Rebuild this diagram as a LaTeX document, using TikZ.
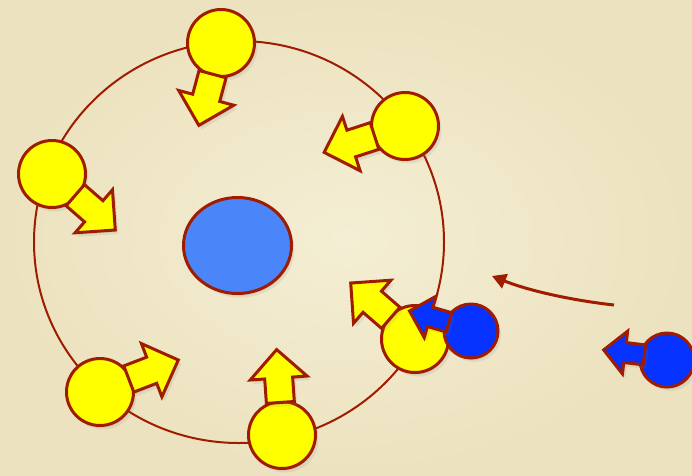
\documentclass[tikz,border=0pt]{standalone}
\usepackage{tikz}
\usetikzlibrary{arrows.meta, shapes.geometric, shapes.arrows, shadows}
\definecolor{Rim}{HTML}{A01C00}
\definecolor{Sun}{HTML}{FFFF00}
\definecolor{Ion}{HTML}{0532FF}
\definecolor{Core}{HTML}{4A86FA}
\definecolor{PaperLight}{HTML}{F4EED4}
\definecolor{PaperDark}{HTML}{ECE2BF}
\tikzset{
    soft/.style={drop shadow={shadow xshift=1pt, shadow yshift=-2pt, opacity=0.18},
                 drop shadow={shadow xshift=3pt, shadow yshift=-4pt, opacity=0.14}},
    ball/.style={circle, draw=Rim, line width=3pt, inner sep=0pt, soft},
    sunball/.style={ball, fill=Sun, minimum size=67pt},
    ionball/.style={ball, fill=Ion, minimum size=54pt},
    push/.style={single arrow, draw=Rim, line width=3pt, inner xsep=0pt, inner ysep=12.5pt, soft,
                 single arrow head extend=14.5pt, single arrow head indent=0pt,
                 minimum height=53pt},
    sunpush/.style={push, fill=Sun},
    ionpush/.style={push, fill=Ion, inner ysep=8.5pt, single arrow head extend=11.5pt,
                    minimum height=41pt},
    drift/.style={-{Triangle[length=14pt, width=15pt]}, line width=3pt, color=Rim},
}
\begin{document}
\begin{tikzpicture}[x=1pt, y=-1pt]
    % Papier
    \shade[inner color=PaperLight, outer color=PaperDark] (0,0) rectangle (692,475);
    \useasboundingbox (0,0) rectangle (692,475);

    % Bahn und Kern
    \node[ellipse, draw=Rim, line width=2pt, minimum width=410pt, minimum height=402pt] (orbit) at (239,242) {};
    \node[ellipse, draw=Rim, line width=3pt, fill=Core, minimum width=108pt, minimum height=96pt, soft] (core) at (237.5,245.5) {};

    % Kugeln auf der Bahn
    \node[sunball] (sunA) at (221,43) {};
    \node[sunball] (sunB) at (405,126) {};
    \node[sunball] (sunC) at (52,174) {};
    \node[sunball] (sunD) at (100,392) {};
    \node[sunball] (sunE) at (282,435) {};
    \node[sunball] (sunF) at (415,339) {};

    % Stoss nach innen
    \node[sunpush, rotate=255] (pushA) at (207.5,93) {};
    \node[sunpush, rotate=198] (pushB) at (356,142) {};
    \node[sunpush, rotate=-41] (pushC) at (90,208) {};
    \node[sunpush, rotate=21] (pushD) at (147,372) {};
    \node[sunpush, rotate=94] (pushE) at (279,383) {};
    \node[sunpush, rotate=139] (pushF) at (376,305) {};

    % ankommende Teilchen
    \node[ionball] (ionA) at (471,331) {};
    \node[ionpush, rotate=164] (ionpushA) at (434,318) {};
    \node[ionball] (ionB) at (667,360) {};
    \node[ionpush, rotate=173] (ionpushB) at (629,353) {};

    % Bewegung
    \coordinate (from) at (614,305);
    \coordinate (to) at (492,276);
    \draw[drift] (from) .. controls +(-45,-5) and +(35,14) .. (to);
\end{tikzpicture}
\end{document}
